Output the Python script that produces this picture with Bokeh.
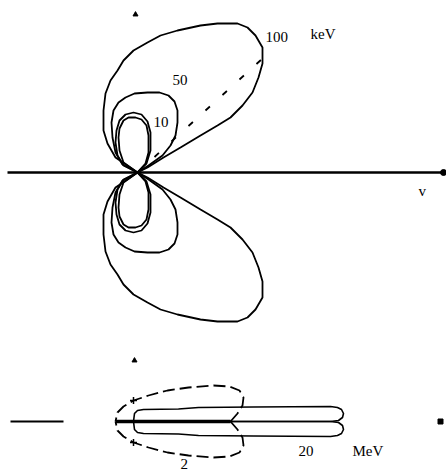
from bokeh.plotting import figure
from bokeh.layouts import column
from bokeh.models import Range1d
from bokeh.core.properties import value
from bokeh.embed import file_html
from bokeh.resources import INLINE

# ---- upper diagram: lobes (upper half; the lower half is the mirror image) ----
lobe_100_x = [0, 10, 26, 43, 63, 80, 93, 105, 115, 121, 125, 125, 118, 110, 100, 80, 63, 40, 23, 10,
              -4, -14, -20, -27, -32, -34, -34, -30, -22, 0]
lobe_100_y = [0, 5, 15, 25, 37, 47, 55, 67, 80, 95, 109, 125, 137, 145, 149, 149, 147, 142, 137, 130,
              122, 112, 102, 92, 79, 62, 42, 29, 15, 0]

lobe_50_x = [0, 11, 25, 33, 38, 40, 40, 37, 31, 22, 10, -3, -12, -19, -24, -26, -25, -22, -15, 0]
lobe_50_y = [0, 7, 17, 27, 37, 50, 62, 71, 77, 80, 80, 79, 75, 70, 62, 50, 35, 20, 8, 0]

lobe_mid_x = [0, 9, 13, 13, 10, 4, -4, -12, -18, -21, -22, -20, -14, 0]
lobe_mid_y = [0, 9, 22, 40, 51, 58, 60, 58, 52, 42, 30, 17, 7, 0]

lobe_10_x = [0, 8, 11, 11, 9, 4, -2, -9, -14, -18, -19, -18, -14, 0]
lobe_10_y = [0, 9, 20, 37, 47, 53, 55, 55, 52, 44, 35, 22, 10, 0]

max_dir_x = [0, 125]
max_dir_y = [0, 114]

top_axis_x = [-130, 306]
top_tip = (-2, 158)

top_labels = ["100", "keV", "50", "10", "v"]
top_label_x = [128, 173, 35, 16, 281]
top_label_y = [136, 139, 93, 51, -18]

# ---- lower diagram ----
dashed_lobe_x = [97, 104, 109, 110, 106, 96, 80, 55, 34, 15, 0, -10, -16, -18]
dashed_lobe_y = [0, 8, 16, 24, 31, 35, 36, 34, 31, 26, 21, 15, 9, 0]

narrow_lobe_x = [0, 1, 4, 10, 45, 65, 120, 197, 204, 208, 210, 209, 205, 197, 0]
narrow_lobe_y = [0, 8, 11, 12, 12.5, 14, 14.5, 15, 14, 12, 8, 4, 1, 0, 0]

bottom_axis_left = [-123, -70]
bottom_axis_core = [-18, 97]
bottom_axis_end = 307
bottom_tip = (1, 61)
cross_x = [0, 0]
cross_y = [21, -21]

bottom_labels = ["20", "MeV", "2"]
bottom_label_x = [165, 219, 47]
bottom_label_y = [-29, -29, -42]

FONT = value("Liberation Serif")
INK = "black"


def panel(height, x_range, y_range):
    p = figure(width=446, height=height, x_range=Range1d(*x_range), y_range=Range1d(*y_range),
               output_backend="svg", toolbar_location=None, x_axis_type=None, y_axis_type=None,
               min_border=0, outline_line_color=None, background_fill_color="white",
               border_fill_color="white")
    p.grid.visible = False
    return p


def mirrored(p, xs, ys, **kw):
    p.line(xs, ys, **kw)
    p.line(xs, [-v for v in ys], **kw)


# upper diagram: origin of the lobes at (0, 0)
top = panel(340, (-137, 309), (-168, 172))
top.line(top_axis_x, [0, 0], line_color=INK, line_width=2.5)
top.scatter([top_axis_x[1]], [0], size=6, color=INK)
for xs, ys in [(lobe_100_x, lobe_100_y), (lobe_50_x, lobe_50_y),
               (lobe_mid_x, lobe_mid_y), (lobe_10_x, lobe_10_y)]:
    mirrored(top, xs, ys, line_color=INK, line_width=1.8)
top.line(max_dir_x, max_dir_y, line_color=INK, line_width=1.8, line_dash="6 17")
top.scatter([top_tip[0]], [top_tip[1]], marker="triangle", size=5, color=INK)
top.text(top_label_x, top_label_y, text=top_labels, text_font=FONT, text_font_size="15px",
         text_color=INK, text_baseline="middle", text_align="left")

# lower diagram: origin at (0, 0)
bot = panel(133, (-133, 313), (-52, 81))
bot.line(bottom_axis_left, [0, 0], line_color=INK, line_width=2)
bot.line(bottom_axis_core, [0, 0], line_color=INK, line_width=3.5)
bot.scatter([bottom_axis_end], [0], marker="square", size=5, color=INK)
mirrored(bot, narrow_lobe_x, narrow_lobe_y, line_color=INK, line_width=1.6)
mirrored(bot, dashed_lobe_x, dashed_lobe_y, line_color=INK, line_width=1.8, line_dash="12 5")
bot.scatter(cross_x, cross_y, marker="cross", size=7, line_color=INK, line_width=1.5)
bot.scatter([bottom_tip[0]], [bottom_tip[1]], marker="triangle", size=5, color=INK)
bot.text(bottom_label_x, bottom_label_y, text=bottom_labels, text_font=FONT,
         text_font_size="15px", text_color=INK, text_baseline="middle", text_align="left")

layout = column(top, bot, spacing=0)
open("out.html", "w").write(file_html(layout, INLINE))
